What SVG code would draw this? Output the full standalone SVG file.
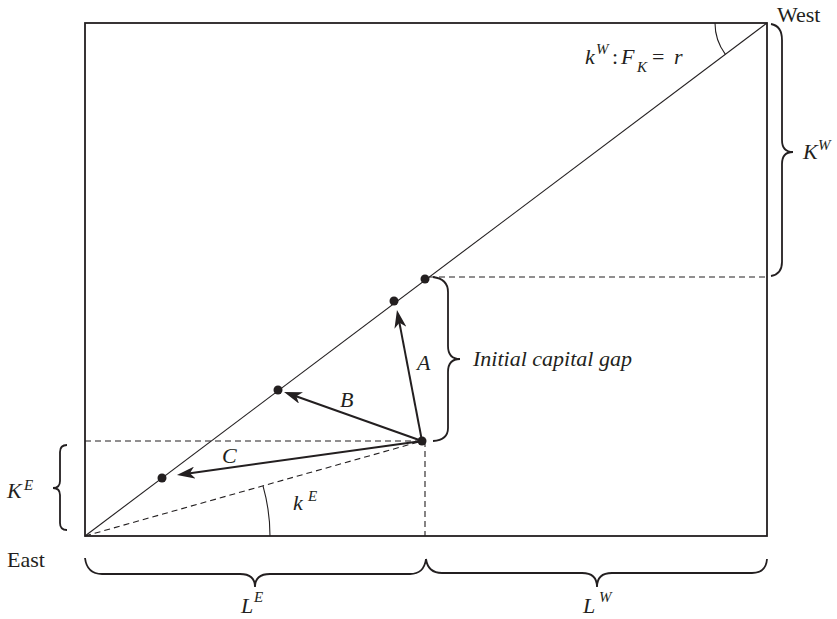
<svg xmlns="http://www.w3.org/2000/svg" width="837" height="619" viewBox="0 0 837 619">
<style>
.t{font-family:"Liberation Serif","Times New Roman","DejaVu Serif",serif;font-size:22px;fill:#231f20}
.i{font-style:italic}
.s{font-size:15px}
.thin{stroke:#231f20;stroke-width:1.1;fill:none}
.dash{stroke:#231f20;stroke-width:1.1;fill:none;stroke-dasharray:6,4}
.br{stroke:#231f20;stroke-width:1.8;fill:none}
.arr{stroke:#231f20;stroke-width:2;fill:none;marker-end:url(#ah)}
.dot{fill:#231f20}
</style>
<defs>
<marker id="ah" markerUnits="userSpaceOnUse" viewBox="0 0 18 12" markerWidth="18" markerHeight="12" refX="12" refY="6" orient="auto">
<path d="M0,0 L18,6 L0,12 L5,6 Z" fill="#231f20"/>
</marker>
</defs>
<g id="box">
<rect x="85" y="23" width="682" height="513" fill="none" stroke="#231f20" stroke-width="1.8"/>
<line class="thin" x1="85" y1="536" x2="767" y2="23"/>
</g>
<g id="guides">
<line class="dash" x1="85" y1="441" x2="422" y2="441"/>
<line class="dash" x1="425" y1="441" x2="425" y2="536"/>
<line class="dash" x1="85" y1="536" x2="422" y2="441"/>
<line class="dash" x1="429" y1="277" x2="767" y2="277"/>
</g>
<g id="angles">
<path class="thin" d="M715,23 A52,52 0 0 0 725.4,54.3"/>
<path class="thin" d="M263,485.8 A185,185 0 0 1 270,536"/>
</g>
<g id="braces">
<path class="br" d="M771,24 Q782,26 782,40 L782,140 Q782,152 793,152 Q782,152 782,164 L782,262 Q782,274 771,276"/>
<path class="br" d="M433,277 Q448,279 448,292 L448,346 Q448,359 460,359 Q448,359 448,372 L448,428 Q448,440 433,441"/>
<path class="br" d="M67,445 Q60,445 60,452 L60,481 Q60,488 53,488 Q60,488 60,495 L60,523 Q60,530 67,530"/>
<path class="br" d="M85,558 Q87,574 102,574 L240,574 Q255,574 255,587 Q255,574 270,574 L410,574 Q424,574 426,559"/>
<path class="br" d="M426,559 Q428,573 442,573 L582,573 Q597,573 597,587 Q597,573 612,573 L752,573 Q766,573 767,559"/>
</g>
<g id="connectors">
<line class="arr" x1="422" y1="441" x2="398.1" y2="315.9"/>
<line class="arr" x1="422" y1="441" x2="289.7" y2="394"/>
<line class="arr" x1="422" y1="441" x2="182.9" y2="474.2"/>
</g>
<g id="points">
<circle class="dot" cx="425" cy="279" r="4.5"/>
<circle class="dot" cx="394" cy="301" r="4.5"/>
<circle class="dot" cx="278" cy="390" r="4.5"/>
<circle class="dot" cx="162" cy="478" r="4.5"/>
<circle class="dot" cx="422" cy="441" r="4.5"/>
</g>
<g id="labels">
<text class="t" x="777" y="22">West</text>
<text class="t" x="7" y="567">East</text>
<text class="t"><tspan class="i" x="585" y="64">k</tspan><tspan class="i s" x="596" y="54">W</tspan><tspan x="612" y="64">:</tspan><tspan class="i" x="621" y="64">F</tspan><tspan class="i s" x="637" y="72">K</tspan><tspan x="652" y="64">=</tspan><tspan class="i" x="674" y="64">r</tspan></text>
<text class="t"><tspan class="i" x="803" y="159">K</tspan><tspan class="i s" x="818" y="150">W</tspan></text>
<text class="t"><tspan class="i" x="7" y="498">K</tspan><tspan class="i s" x="24" y="490">E</tspan></text>
<text class="t"><tspan class="i" x="241" y="613">L</tspan><tspan class="i s" x="254" y="602">E</tspan></text>
<text class="t"><tspan class="i" x="583" y="613">L</tspan><tspan class="i s" x="599" y="602">W</tspan></text>
<text class="t"><tspan class="i" x="293" y="510">k</tspan><tspan class="i s" x="308" y="501">E</tspan></text>
<text class="t i" x="417" y="370">A</text>
<text class="t i" x="340" y="407">B</text>
<text class="t i" x="222" y="463">C</text>
<text class="t i" x="473" y="366">Initial capital gap</text>
</g>
</svg>
